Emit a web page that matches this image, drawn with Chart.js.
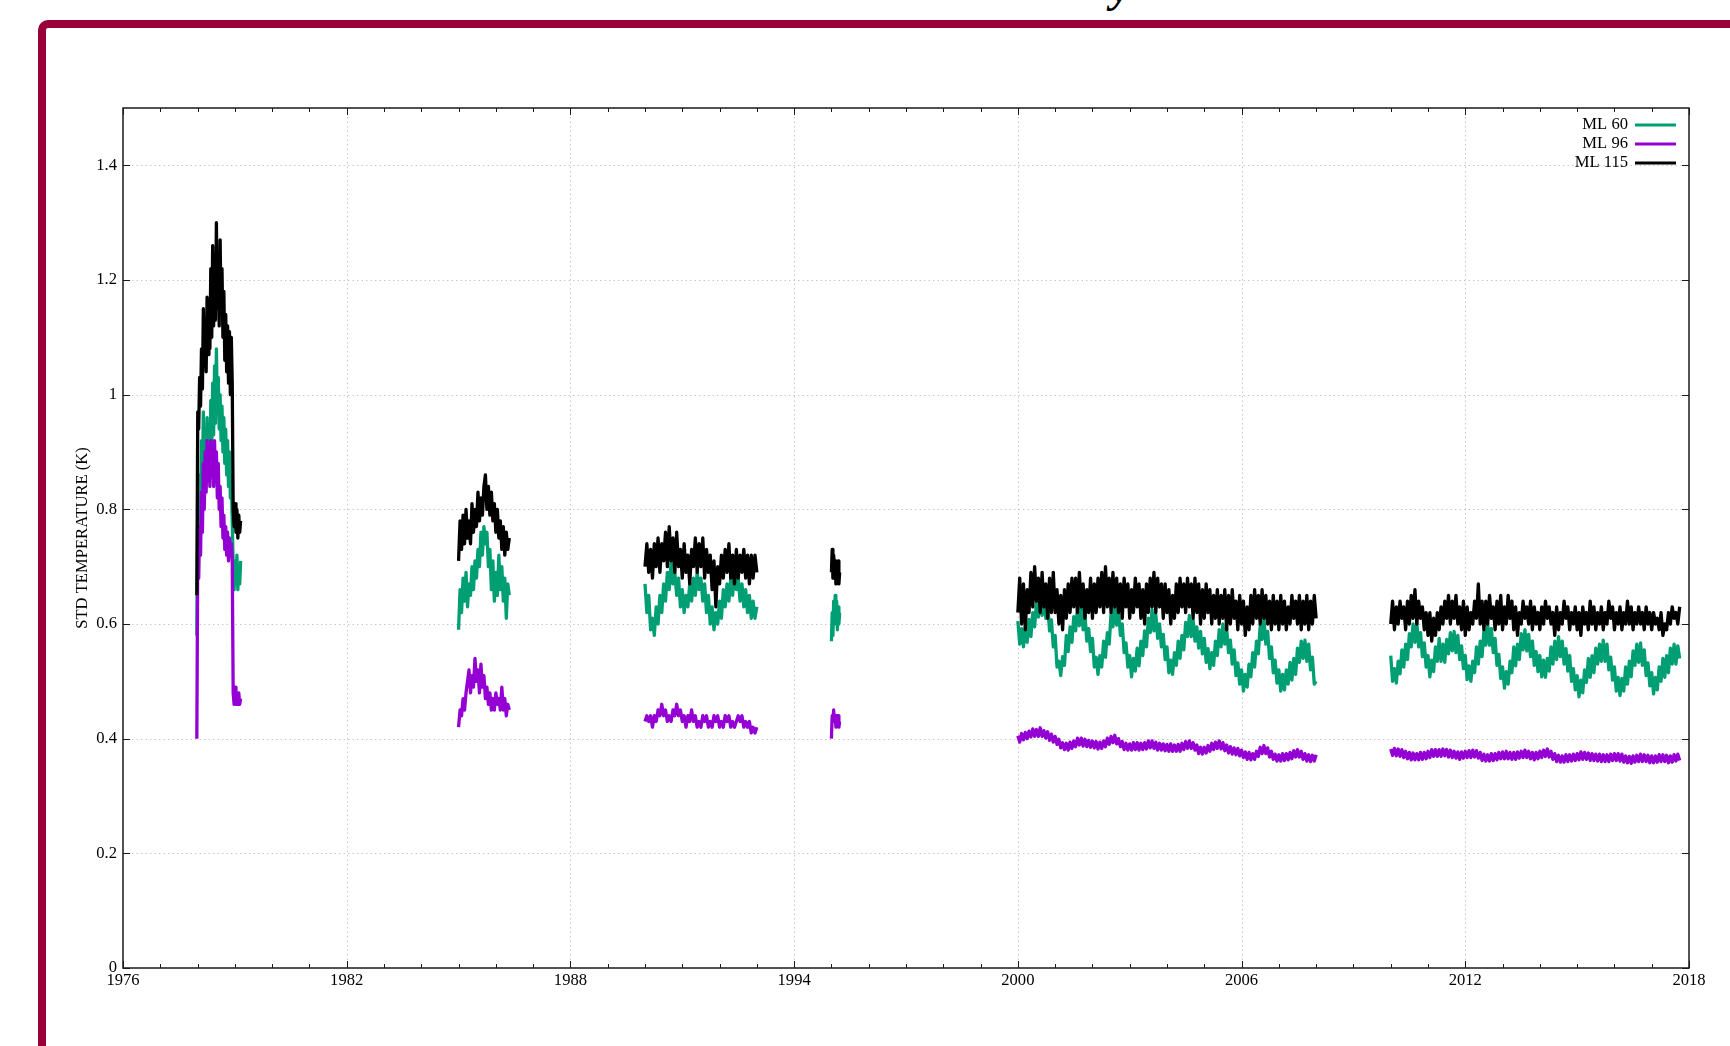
<!DOCTYPE html>
<html>
<head>
<meta charset="utf-8">
<script src="https://cdn.jsdelivr.net/npm/chart.js@4.4.1/dist/chart.umd.min.js"></script>
<style>
  html, body { margin: 0; padding: 0; background: #fff; overflow: hidden; }
  #page { position: relative; width: 1730px; height: 1046px; overflow: hidden; }
  #frame { position: absolute; left: 38px; top: 20px; width: 1800px; height: 1100px; border: 8px solid #99003a; border-top-left-radius: 10px; box-sizing: border-box; }
  #titleTail { position: absolute; left: 1111px; top: -34px; font: bold italic 44px "Liberation Serif", serif; line-height: 1; color: #000; }
  #chart { position: absolute; left: 0; top: 0; }
</style>
</head>
<body>
<div id="page">
  <div id="frame"></div>
  <div id="titleTail">y</div>
  <canvas id="chart" width="1730" height="1046"></canvas>
</div>
<script>
// axis ticks
const yearTicks = [1976, 1982, 1988, 1994, 2000, 2006, 2012, 2018];
const tempTicks = [0, 0.2, 0.4, 0.6, 0.8, 1, 1.2, 1.4];

// each record: start year + sample spacing (years)
const segStart = [1977.98, 1985.0, 1990.0, 1995.0, 2000.0, 2010.0];
const segStep = [0.025, 0.04, 0.05, 0.02, 0.05, 0.05];

// ---- ML 60 ----
const ml60_1978 = [0.58, 0.80, 0.74, 0.86, 0.79, 0.92, 0.84, 0.97, 0.86, 0.93,
  0.85, 0.96, 0.88, 0.94, 0.87, 0.99, 0.90, 1.02, 0.93, 1.05,
  0.95, 1.08, 0.97, 1.03, 0.94, 1.00, 0.92, 0.98, 0.90, 0.96,
  0.88, 0.94, 0.86, 0.92, 0.84, 0.90, 0.82, 0.86, 0.78, 0.70,
  0.66, 0.71, 0.67, 0.72, 0.66, 0.70, 0.67, 0.71];
const ml60_1985 = [0.59, 0.66, 0.62, 0.68, 0.64, 0.69, 0.63, 0.67, 0.65, 0.70,
  0.66, 0.71, 0.68, 0.73, 0.70, 0.76, 0.72, 0.77, 0.74, 0.76,
  0.70, 0.73, 0.66, 0.71, 0.64, 0.69, 0.65, 0.72, 0.66, 0.70,
  0.64, 0.68, 0.61, 0.67, 0.65];
const ml60_1990 = [0.67, 0.62, 0.65, 0.59, 0.61, 0.58, 0.63, 0.60, 0.65, 0.62,
  0.67, 0.64, 0.69, 0.66, 0.71, 0.67, 0.69, 0.65, 0.68, 0.63,
  0.66, 0.62, 0.65, 0.63, 0.67, 0.64, 0.68, 0.65, 0.69, 0.66,
  0.68, 0.64, 0.67, 0.62, 0.65, 0.60, 0.63, 0.59, 0.62, 0.60,
  0.64, 0.61, 0.66, 0.63, 0.67, 0.64, 0.68, 0.65, 0.69, 0.66,
  0.68, 0.64, 0.67, 0.63, 0.66, 0.62, 0.65, 0.61, 0.64, 0.61,
  0.63];
const ml60_1995 = [0.57, 0.62, 0.58, 0.64, 0.60, 0.65, 0.61, 0.64, 0.59, 0.63, 0.60, 0.62];
const ml60_2000 = [
  0.605, 0.565, 0.592, 0.56, 0.595, 0.568, 0.608, 0.578, 0.62, 0.595, 0.64, 0.612, 0.652, 0.615, 0.647, 0.61, 0.635, 0.588, 0.607, 0.56,
  0.58, 0.525, 0.535, 0.51, 0.543, 0.528, 0.58, 0.552, 0.595, 0.568, 0.613, 0.588, 0.63, 0.597, 0.632, 0.59, 0.615, 0.57, 0.592, 0.552,
  0.575, 0.525, 0.542, 0.512, 0.545, 0.525, 0.57, 0.542, 0.585, 0.565, 0.618, 0.595, 0.635, 0.598, 0.627, 0.58, 0.60, 0.55, 0.567, 0.525,
  0.545, 0.508, 0.54, 0.518, 0.558, 0.527, 0.57, 0.545, 0.588, 0.56, 0.61, 0.585, 0.625, 0.588, 0.617, 0.575, 0.60, 0.56, 0.582, 0.538,
  0.56, 0.515, 0.537, 0.512, 0.55, 0.528, 0.57, 0.54, 0.58, 0.555, 0.603, 0.578, 0.615, 0.578, 0.607, 0.57, 0.595, 0.558, 0.587, 0.548,
  0.575, 0.533, 0.557, 0.522, 0.55, 0.528, 0.57, 0.545, 0.59, 0.56, 0.60, 0.565, 0.592, 0.55, 0.572, 0.53, 0.555, 0.51, 0.532, 0.495,
  0.52, 0.483, 0.512, 0.49, 0.53, 0.508, 0.55, 0.525, 0.57, 0.548, 0.598, 0.573, 0.61, 0.565, 0.587, 0.54, 0.56, 0.515, 0.537, 0.497,
  0.52, 0.483, 0.512, 0.485, 0.52, 0.495, 0.533, 0.502, 0.54, 0.512, 0.558, 0.533, 0.57, 0.54, 0.572, 0.535, 0.565, 0.52, 0.542, 0.495,
  0.50];
const ml60_2010 = [
  0.545, 0.50, 0.522, 0.497, 0.535, 0.513, 0.555, 0.525, 0.565, 0.538, 0.583, 0.56, 0.60, 0.568, 0.602, 0.56, 0.585, 0.543, 0.567, 0.525,
  0.545, 0.508, 0.537, 0.517, 0.56, 0.535, 0.575, 0.535, 0.565, 0.533, 0.573, 0.548, 0.585, 0.553, 0.587, 0.55, 0.58, 0.538, 0.562, 0.522,
  0.545, 0.503, 0.527, 0.50, 0.535, 0.515, 0.56, 0.53, 0.57, 0.543, 0.588, 0.563, 0.60, 0.563, 0.592, 0.55, 0.575, 0.528, 0.547, 0.505,
  0.525, 0.488, 0.517, 0.495, 0.535, 0.515, 0.56, 0.527, 0.565, 0.538, 0.583, 0.555, 0.59, 0.553, 0.582, 0.543, 0.57, 0.528, 0.552, 0.517,
  0.545, 0.508, 0.537, 0.507, 0.54, 0.518, 0.56, 0.53, 0.57, 0.538, 0.578, 0.543, 0.57, 0.53, 0.557, 0.518, 0.545, 0.50, 0.522, 0.485,
  0.51, 0.473, 0.502, 0.48, 0.52, 0.498, 0.54, 0.507, 0.545, 0.515, 0.558, 0.53, 0.565, 0.535, 0.572, 0.535, 0.565, 0.52, 0.542, 0.502,
  0.525, 0.483, 0.507, 0.475, 0.505, 0.483, 0.525, 0.495, 0.535, 0.508, 0.553, 0.528, 0.565, 0.533, 0.567, 0.528, 0.555, 0.51, 0.532, 0.492,
  0.515, 0.478, 0.507, 0.485, 0.525, 0.50, 0.54, 0.507, 0.545, 0.515, 0.558, 0.53, 0.565, 0.53, 0.562, 0.54];

// ---- ML 96 ----
const ml96_1978 = [0.40, 0.73, 0.68, 0.77, 0.72, 0.83, 0.76, 0.88, 0.80, 0.90,
  0.83, 0.92, 0.85, 0.91, 0.84, 0.92, 0.86, 0.91, 0.84, 0.92,
  0.85, 0.90, 0.82, 0.88, 0.80, 0.84, 0.77, 0.82, 0.75, 0.79,
  0.73, 0.77, 0.72, 0.76, 0.71, 0.75, 0.72, 0.74, 0.71, 0.48,
  0.46, 0.49, 0.46, 0.48, 0.46, 0.48, 0.46, 0.47];
const ml96_1985 = [0.42, 0.45, 0.44, 0.47, 0.45, 0.48, 0.50, 0.52, 0.48, 0.51,
  0.49, 0.54, 0.50, 0.52, 0.48, 0.53, 0.49, 0.51, 0.47, 0.49,
  0.46, 0.48, 0.45, 0.47, 0.45, 0.48, 0.46, 0.47, 0.45, 0.49,
  0.45, 0.47, 0.44, 0.46, 0.45];
const ml96_1990 = [0.43, 0.44, 0.43, 0.44, 0.42, 0.44, 0.43, 0.45, 0.44, 0.46,
  0.44, 0.45, 0.43, 0.44, 0.43, 0.45, 0.44, 0.46, 0.44, 0.45,
  0.43, 0.44, 0.42, 0.44, 0.43, 0.45, 0.43, 0.44, 0.42, 0.43,
  0.42, 0.44, 0.43, 0.44, 0.42, 0.43, 0.42, 0.44, 0.43, 0.44,
  0.42, 0.43, 0.42, 0.44, 0.43, 0.44, 0.42, 0.43, 0.42, 0.43,
  0.44, 0.43, 0.44, 0.42, 0.43, 0.42, 0.43, 0.41, 0.42, 0.41,
  0.42];
const ml96_1995 = [0.40, 0.44, 0.43, 0.45, 0.43, 0.44, 0.42, 0.44, 0.43, 0.44, 0.42, 0.43];
const ml96_2000 = [
  0.405, 0.394, 0.409, 0.398, 0.411, 0.40, 0.413, 0.403, 0.417, 0.404, 0.416, 0.404, 0.419, 0.404, 0.414, 0.401, 0.412, 0.397, 0.408, 0.394,
  0.404, 0.39, 0.399, 0.384, 0.393, 0.381, 0.392, 0.38, 0.394, 0.383, 0.396, 0.386, 0.401, 0.389, 0.401, 0.387, 0.399, 0.386, 0.397, 0.385,
  0.396, 0.384, 0.395, 0.382, 0.394, 0.383, 0.396, 0.386, 0.401, 0.39, 0.404, 0.393, 0.406, 0.391, 0.40, 0.386, 0.395, 0.381, 0.392, 0.38,
  0.391, 0.38, 0.393, 0.381, 0.393, 0.38, 0.392, 0.381, 0.393, 0.382, 0.396, 0.384, 0.396, 0.383, 0.394, 0.38, 0.392, 0.38, 0.391, 0.379,
  0.39, 0.378, 0.391, 0.378, 0.389, 0.378, 0.39, 0.378, 0.392, 0.381, 0.395, 0.383, 0.396, 0.383, 0.393, 0.38, 0.389, 0.374, 0.385, 0.373,
  0.385, 0.375, 0.388, 0.378, 0.392, 0.381, 0.394, 0.383, 0.396, 0.382, 0.393, 0.379, 0.389, 0.375, 0.386, 0.373, 0.384, 0.372, 0.383, 0.37,
  0.38, 0.367, 0.377, 0.364, 0.376, 0.363, 0.374, 0.364, 0.378, 0.369, 0.385, 0.374, 0.388, 0.374, 0.384, 0.368, 0.378, 0.364, 0.373, 0.361,
  0.372, 0.361, 0.374, 0.362, 0.374, 0.363, 0.376, 0.365, 0.379, 0.368, 0.381, 0.368, 0.378, 0.364, 0.374, 0.361, 0.372, 0.36, 0.371, 0.361,
  0.372];
const ml96_2010 = [
  0.382, 0.371, 0.383, 0.37, 0.382, 0.369, 0.381, 0.367, 0.378, 0.365, 0.376, 0.363, 0.375, 0.363, 0.374, 0.363, 0.376, 0.364, 0.376, 0.365,
  0.378, 0.367, 0.381, 0.369, 0.381, 0.369, 0.381, 0.369, 0.382, 0.37, 0.381, 0.368, 0.38, 0.367, 0.378, 0.366, 0.377, 0.364, 0.377, 0.366,
  0.378, 0.367, 0.379, 0.367, 0.38, 0.368, 0.379, 0.366, 0.376, 0.362, 0.373, 0.361, 0.372, 0.361, 0.374, 0.362, 0.374, 0.363, 0.376, 0.365,
  0.377, 0.365, 0.378, 0.365, 0.376, 0.364, 0.376, 0.364, 0.377, 0.366, 0.378, 0.367, 0.38, 0.367, 0.378, 0.365, 0.376, 0.363, 0.376, 0.365,
  0.378, 0.367, 0.38, 0.369, 0.382, 0.368, 0.378, 0.364, 0.374, 0.36, 0.371, 0.359, 0.37, 0.359, 0.372, 0.36, 0.372, 0.361, 0.373, 0.362,
  0.374, 0.363, 0.377, 0.364, 0.376, 0.364, 0.375, 0.362, 0.374, 0.362, 0.373, 0.361, 0.373, 0.36, 0.372, 0.36, 0.372, 0.36, 0.373, 0.362,
  0.374, 0.362, 0.374, 0.361, 0.373, 0.359, 0.37, 0.358, 0.369, 0.357, 0.37, 0.359, 0.371, 0.36, 0.373, 0.36, 0.372, 0.36, 0.371, 0.358,
  0.37, 0.358, 0.37, 0.359, 0.372, 0.36, 0.372, 0.36, 0.371, 0.358, 0.37, 0.359, 0.372, 0.361, 0.373, 0.362];

// ---- ML 115 ----
const ml115_1978 = [0.65, 0.97, 0.94, 1.03, 0.98, 1.08, 1.01, 1.15, 1.05, 1.12,
  1.04, 1.17, 1.07, 1.15, 1.08, 1.22, 1.10, 1.26, 1.12, 1.20,
  1.13, 1.30, 1.15, 1.24, 1.12, 1.27, 1.14, 1.22, 1.10, 1.18,
  1.06, 1.14, 1.04, 1.12, 1.02, 1.11, 1.00, 1.10, 1.02, 0.80,
  0.77, 0.81, 0.76, 0.80, 0.75, 0.79, 0.76, 0.78];
const ml115_1985 = [0.71, 0.78, 0.73, 0.79, 0.74, 0.80, 0.75, 0.78, 0.74, 0.81,
  0.76, 0.80, 0.77, 0.83, 0.78, 0.82, 0.79, 0.84, 0.86, 0.80,
  0.84, 0.79, 0.83, 0.78, 0.81, 0.76, 0.80, 0.75, 0.78, 0.73,
  0.77, 0.72, 0.76, 0.73, 0.75];
const ml115_1990 = [0.70, 0.74, 0.69, 0.73, 0.68, 0.74, 0.70, 0.75, 0.69, 0.74,
  0.71, 0.76, 0.70, 0.77, 0.71, 0.75, 0.69, 0.76, 0.70, 0.73,
  0.68, 0.74, 0.69, 0.72, 0.67, 0.73, 0.70, 0.75, 0.69, 0.74,
  0.70, 0.75, 0.68, 0.73, 0.69, 0.72, 0.66, 0.71, 0.63, 0.70,
  0.67, 0.72, 0.68, 0.73, 0.69, 0.74, 0.68, 0.72, 0.67, 0.73,
  0.68, 0.72, 0.69, 0.73, 0.68, 0.72, 0.67, 0.72, 0.68, 0.72,
  0.69];
const ml115_1995 = [0.69, 0.73, 0.68, 0.72, 0.70, 0.71, 0.67, 0.70, 0.68, 0.71, 0.67, 0.69];
const ml115_2000 = [0.62, 0.68, 0.60, 0.67, 0.59, 0.66, 0.62, 0.69, 0.63, 0.70,
  0.64, 0.68, 0.62, 0.69, 0.63, 0.67, 0.61, 0.68, 0.62, 0.69,
  0.62, 0.66, 0.60, 0.65, 0.59, 0.66, 0.61, 0.67, 0.62, 0.68,
  0.63, 0.68, 0.62, 0.69, 0.63, 0.67, 0.61, 0.66, 0.62, 0.68,
  0.61, 0.67, 0.62, 0.68, 0.63, 0.69, 0.62, 0.70, 0.63, 0.68,
  0.62, 0.69, 0.63, 0.68, 0.62, 0.67, 0.61, 0.68, 0.63, 0.67,
  0.61, 0.66, 0.62, 0.68, 0.63, 0.67, 0.61, 0.66, 0.60, 0.67,
  0.62, 0.68, 0.63, 0.69, 0.62, 0.68, 0.63, 0.67, 0.61, 0.67,
  0.62, 0.66, 0.60, 0.65, 0.61, 0.67, 0.62, 0.68, 0.63, 0.67,
  0.62, 0.68, 0.63, 0.67, 0.61, 0.68, 0.62, 0.67, 0.60, 0.66,
  0.61, 0.67, 0.62, 0.66, 0.60, 0.65, 0.61, 0.66, 0.60, 0.65,
  0.61, 0.66, 0.59, 0.65, 0.60, 0.66, 0.61, 0.64, 0.59, 0.65,
  0.60, 0.64, 0.58, 0.63, 0.59, 0.65, 0.60, 0.66, 0.61, 0.65,
  0.60, 0.66, 0.61, 0.65, 0.60, 0.64, 0.59, 0.65, 0.60, 0.64,
  0.59, 0.65, 0.60, 0.64, 0.59, 0.63, 0.60, 0.65, 0.61, 0.64,
  0.60, 0.65, 0.59, 0.64, 0.60, 0.65, 0.59, 0.64, 0.60, 0.65,
  0.61];
const ml115_2010 = [0.60, 0.64, 0.59, 0.63, 0.60, 0.64, 0.61, 0.63, 0.59, 0.64,
  0.60, 0.65, 0.61, 0.66, 0.60, 0.64, 0.61, 0.63, 0.59, 0.62,
  0.58, 0.62, 0.57, 0.61, 0.58, 0.62, 0.59, 0.63, 0.60, 0.64,
  0.61, 0.65, 0.60, 0.64, 0.61, 0.65, 0.60, 0.63, 0.59, 0.64,
  0.58, 0.63, 0.59, 0.62, 0.60, 0.64, 0.61, 0.67, 0.60, 0.64,
  0.59, 0.64, 0.60, 0.65, 0.61, 0.63, 0.59, 0.64, 0.60, 0.65,
  0.59, 0.63, 0.60, 0.65, 0.61, 0.64, 0.59, 0.63, 0.58, 0.62,
  0.60, 0.64, 0.61, 0.63, 0.60, 0.64, 0.59, 0.63, 0.60, 0.62,
  0.59, 0.63, 0.60, 0.64, 0.61, 0.63, 0.60, 0.62, 0.58, 0.63,
  0.59, 0.62, 0.60, 0.64, 0.61, 0.63, 0.59, 0.62, 0.60, 0.63,
  0.59, 0.62, 0.58, 0.63, 0.60, 0.62, 0.59, 0.64, 0.60, 0.63,
  0.59, 0.62, 0.60, 0.63, 0.59, 0.62, 0.60, 0.64, 0.61, 0.63,
  0.59, 0.62, 0.60, 0.63, 0.59, 0.62, 0.60, 0.64, 0.60, 0.63,
  0.59, 0.62, 0.60, 0.63, 0.60, 0.62, 0.59, 0.63, 0.60, 0.62,
  0.59, 0.62, 0.60, 0.61, 0.59, 0.62, 0.58, 0.60, 0.59, 0.62,
  0.60, 0.63, 0.61, 0.62, 0.60, 0.63];

// glue the records together, null between them so the line breaks
function buildSeries(records) {
    const pts = [];
    records.forEach((vals, k) => {
        const start = segStart[k];
        const step = segStep[k];
        if (k > 0) pts.push({ x: start - step, y: null });
        vals.forEach((v, i) => pts.push({ x: +(start + i * step).toFixed(3), y: v }));
    });
    return pts;
}

const seriesML60 = buildSeries([ml60_1978, ml60_1985, ml60_1990, ml60_1995, ml60_2000, ml60_2010]);
const seriesML96 = buildSeries([ml96_1978, ml96_1985, ml96_1990, ml96_1995, ml96_2000, ml96_2010]);
const seriesML115 = buildSeries([ml115_1978, ml115_1985, ml115_1990, ml115_1995, ml115_2000, ml115_2010]);

const FONT = '"Liberation Serif", "Times New Roman", serif';
const FONT_SIZE = 16.6;

// dotted grid + boxed frame with inward tics (gnuplot look)
const gnuFrame = {
    id: 'gnuFrame',
    beforeDatasetsDraw(chart) {
        const { ctx, chartArea: a, scales: { x, y } } = chart;
        ctx.save();
        ctx.strokeStyle = '#c8c8c8';
        ctx.lineWidth = 1;
        ctx.setLineDash([1.5, 3]);
        ctx.beginPath();
        yearTicks.slice(1, -1).forEach(v => {
            const px = Math.round(x.getPixelForValue(v)) + 0.5;
            ctx.moveTo(px, a.top);
            ctx.lineTo(px, a.bottom);
        });
        tempTicks.slice(1).forEach(v => {
            const py = Math.round(y.getPixelForValue(v)) + 0.5;
            ctx.moveTo(a.left, py);
            ctx.lineTo(a.right, py);
        });
        ctx.stroke();
        ctx.restore();
    },
    afterDatasetsDraw(chart) {
        const { ctx, chartArea: a, scales: { x, y } } = chart;
        ctx.save();
        ctx.strokeStyle = '#1a1a1a';
        ctx.lineWidth = 1.5;
        ctx.strokeRect(a.left, a.top, a.right - a.left, a.bottom - a.top);
        ctx.lineWidth = 1;
        ctx.beginPath();
        // one minor tic per year, major ones at the labels
        for (let yr = yearTicks[0]; yr <= yearTicks[yearTicks.length - 1]; yr++) {
            const len = yearTicks.includes(yr) ? 7 : 4;
            const px = Math.round(x.getPixelForValue(yr)) + 0.5;
            ctx.moveTo(px, a.bottom); ctx.lineTo(px, a.bottom - len);
            ctx.moveTo(px, a.top); ctx.lineTo(px, a.top + len);
        }
        tempTicks.forEach(v => {
            const py = Math.round(y.getPixelForValue(v)) + 0.5;
            ctx.moveTo(a.left, py); ctx.lineTo(a.left + 7, py);
            ctx.moveTo(a.right, py); ctx.lineTo(a.right - 7, py);
        });
        ctx.stroke();
        ctx.restore();
    }
};

// key in the top right corner: label first, sample line after it
const gnuKey = {
    id: 'gnuKey',
    afterDraw(chart) {
        const { ctx, chartArea: a } = chart;
        ctx.save();
        ctx.font = FONT_SIZE + 'px ' + FONT;
        ctx.textAlign = 'right';
        ctx.textBaseline = 'middle';
        chart.data.datasets.forEach((ds, i) => {
            const yy = a.top + 17 + i * 19;
            ctx.fillStyle = '#000';
            ctx.fillText(ds.label, a.right - 61, yy);
            ctx.strokeStyle = ds.borderColor;
            ctx.lineWidth = 3;
            ctx.beginPath();
            ctx.moveTo(a.right - 54, yy);
            ctx.lineTo(a.right - 13, yy);
            ctx.stroke();
        });
        ctx.restore();
    }
};

const lineStyle = { pointRadius: 0, borderWidth: 3.3, fill: false, tension: 0, borderJoinStyle: 'round', spanGaps: false };

new Chart(document.getElementById('chart'), {
    type: 'line',
    data: {
        datasets: [
            { label: 'ML 60', data: seriesML60, borderColor: '#009e73', order: 2, ...lineStyle },
            { label: 'ML 96', data: seriesML96, borderColor: '#9400d3', order: 1, ...lineStyle },
            { label: 'ML 115', data: seriesML115, borderColor: '#000000', order: 0, ...lineStyle }
        ]
    },
    options: {
        responsive: false,
        animation: false,
        events: [],
        layout: { padding: { left: 0, top: 108, right: 41, bottom: 0 } },
        plugins: { legend: { display: false }, tooltip: { enabled: false } },
        scales: {
            x: {
                type: 'linear',
                min: 1976,
                max: 2018,
                grid: { display: false, drawTicks: false },
                border: { display: false },
                afterBuildTicks: s => { s.ticks = yearTicks.map(v => ({ value: v })); },
                afterFit: s => { s.height = 78; },
                ticks: {
                    color: '#000',
                    font: { family: FONT, size: FONT_SIZE },
                    padding: 3,
                    maxRotation: 0,
                    autoSkip: false,
                    callback: v => String(v)
                }
            },
            y: {
                min: 0,
                max: 1.5,
                grid: { display: false, drawTicks: false },
                border: { display: false },
                afterBuildTicks: s => { s.ticks = tempTicks.map(v => ({ value: v })); },
                afterFit: s => { s.width = 123; },
                title: {
                    display: true,
                    text: 'STD TEMPERATURE (K)',
                    color: '#000',
                    font: { family: FONT, size: FONT_SIZE },
                    padding: { top: 73, bottom: 0 }
                },
                ticks: {
                    color: '#000',
                    font: { family: FONT, size: FONT_SIZE },
                    padding: 6,
                    callback: v => String(Math.round(v * 10) / 10)
                }
            }
        }
    },
    plugins: [gnuFrame, gnuKey]
});
</script>
</body>
</html>
